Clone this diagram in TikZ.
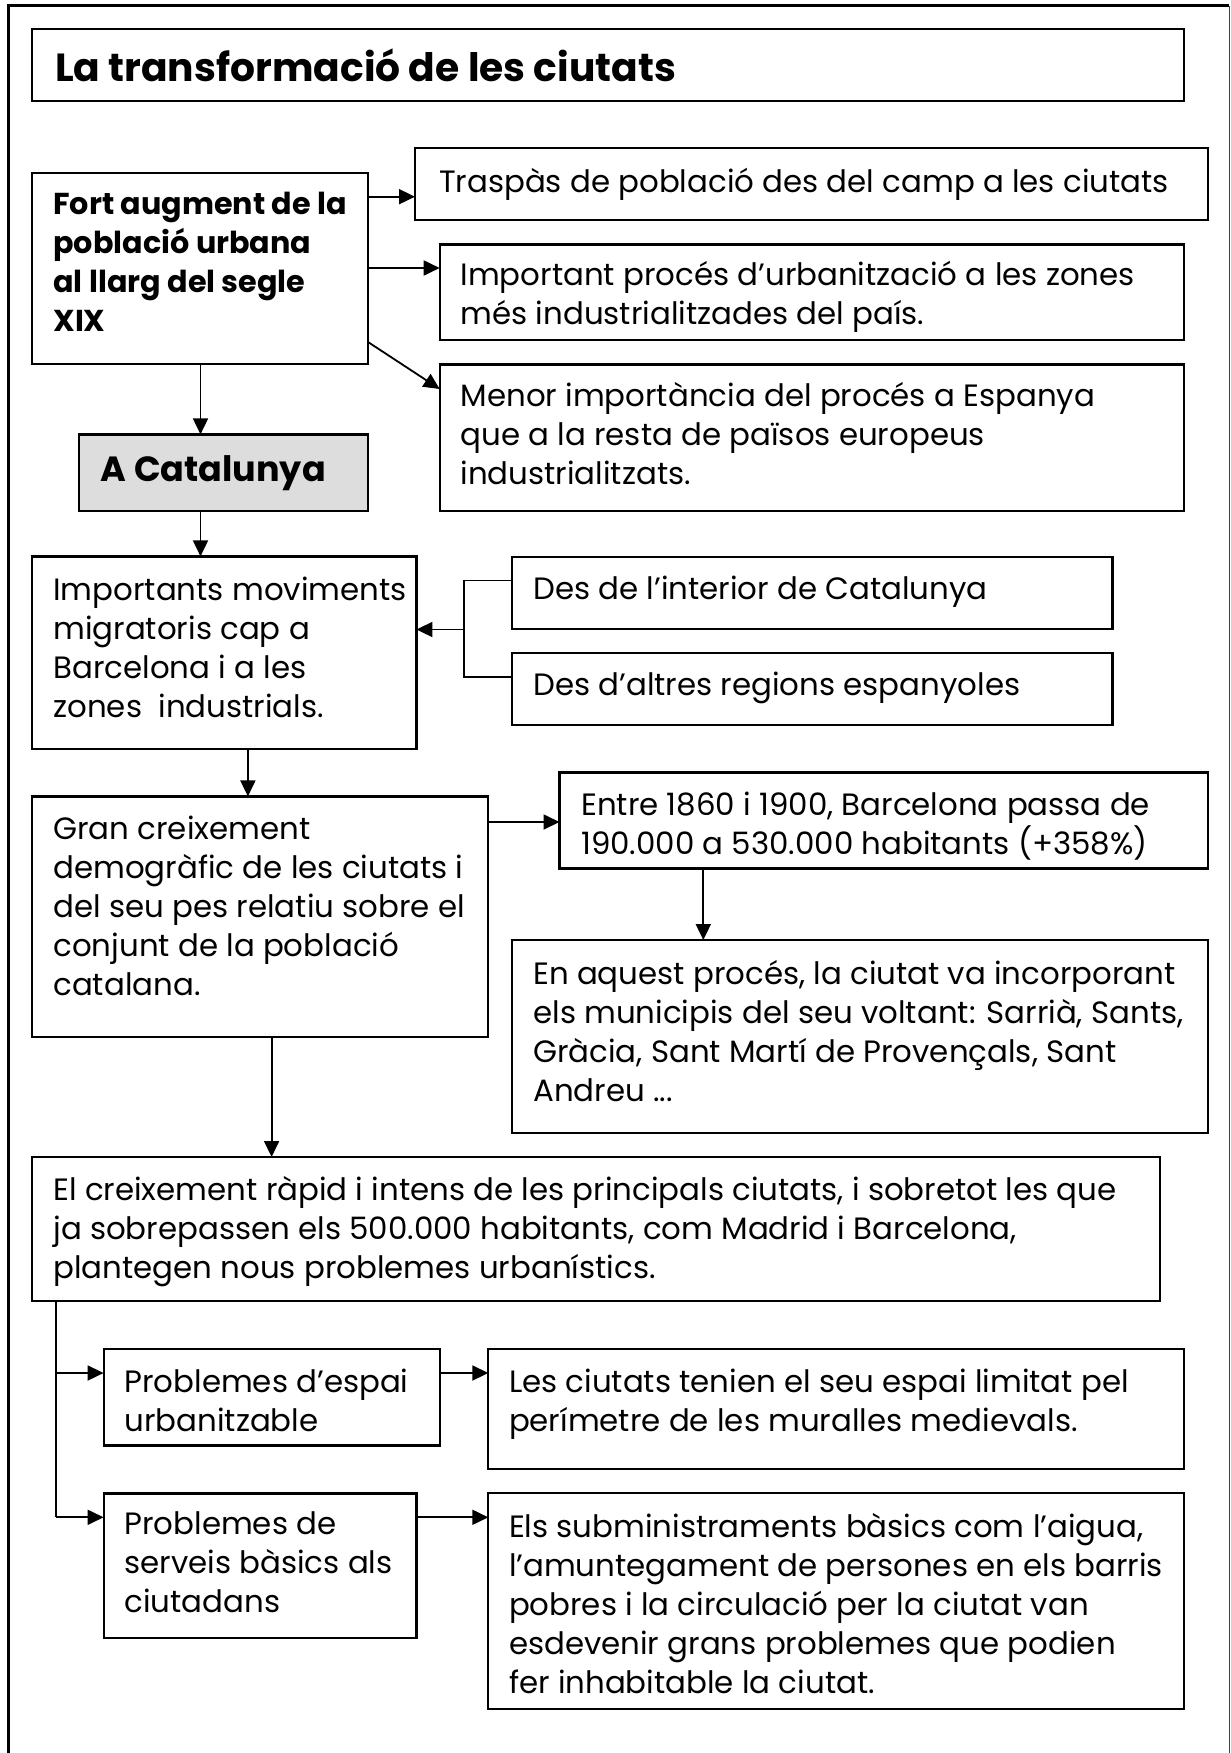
\documentclass[tikz,border=0pt]{standalone}
\usepackage{fontspec}
\setmainfont{Poppins}
\usetikzlibrary{arrows.meta,calc}
\definecolor{catgray}{RGB}{221,221,221}
\newlength\calA
\newlength\calB
\newcommand\addw[1]{\settowidth\calB{\fontsize{10pt}{12pt}\selectfont #1}\addtolength\calA\calB}
\newcommand\bx[6][]{\node[box,#1,anchor=north west,minimum width={#4-#2},minimum height={#5-#3}] (#6) at (#2,#3) {};}
\newcommand\tx[5]{\node[anchor=base west,inner sep=0pt,outer sep=0pt] (#1) at (#2,#3) {\parbox[t]{1150pt}{#4\raggedright #5}};}
\begin{document}%
\setlength\calA{0pt}%
\addw{Traspàs de població des del camp a les ciutats}%
\addw{En aquest procés, la ciutat va incorporant}%
\addw{l’amuntegament de persones en els barris}%
\addw{demogràfic de les ciutats i}%
\pgfmathsetmacro\rs{2436/\calA*10}%
\setlength\calA{0pt}%
\addw{\bfseries Fort augment de la}%
\addw{\bfseries població urbana}%
\addw{\bfseries al llarg del segle}%
\pgfmathsetmacro\bs{803.6/\calA*10}%
\setlength\calA{0pt}%
\addw{\bfseries La transformació de les ciutats}%
\pgfmathsetmacro\ts{621/\calA*10}%
\setlength\calA{0pt}%
\addw{\bfseries A Catalunya}%
\pgfmathsetmacro\cs{225/\calA*10}%
\def\regf{\fontsize{\rs pt}{39pt}\selectfont}%
\def\boldf{\bfseries\fontsize{\bs pt}{39.2pt}\selectfont}%
\begin{tikzpicture}[x=1pt,y=-1pt,
  box/.style={draw=black,line width=2.2pt,inner sep=0pt,outer sep=0pt},
  arr/.style={line width=1.8pt,-{Triangle[length=16pt,width=15pt]}},
  ln/.style={line width=1.8pt}]
\useasboundingbox (0,0) rectangle (1231,1753);
\fill[white] (0,0) rectangle (1231,1753);
% ---- outer frame ----
\draw[line width=3pt] (8,1753) -- (8,6) -- (1229,6);
\draw[line width=1.5pt,black!75] (1229.5,6) -- (1229.5,1753);
% ---- boxes ----
\bx{31.7}{29}{1184}{100.7}{title}
\bx{31.6}{173}{368}{364}{fort}
\bx{415}{148}{1207.6}{220}{tra}
\bx{439.7}{244.5}{1184}{340}{imp}
\bx{439.7}{364.5}{1184}{511}{men}
\bx[fill=catgray]{79}{434.4}{368}{511}{cat}
\bx{31.6}{556.4}{416.4}{749}{mig}
\bx{512}{557}{1112.5}{628.7}{int}
\bx{512}{653}{1112.5}{725}{alt}
\bx{31.6}{796.4}{488.1}{1037}{gran}
\bx{559.5}{772.5}{1207.9}{868.4}{entre}
\bx{512}{940}{1207.9}{1133}{aq}
\bx{31.6}{1157}{1160}{1301}{el}
\bx{103.6}{1349}{439.7}{1445.4}{esp}
\bx{488.3}{1349}{1184}{1469}{les}
\bx{103.6}{1493.4}{416.4}{1637.7}{ser}
\bx{488.3}{1493}{1184}{1709}{els}
% ---- texts ----
\tx{title-t}{55}{81.7}{\bfseries\fontsize{\ts pt}{40pt}\selectfont}{La transformació de les ciutats}
\tx{fort-t}{53.4}{214}{\boldf}{Fort augment de la\\població urbana\\al llarg del segle\\XIX}
\tx{cat-t}{100.8}{481}{\bfseries\fontsize{\cs pt}{40pt}\selectfont}{A Catalunya}
\tx{tra-t}{439}{192}{\regf}{Traspàs de població des del camp a les ciutats}
\tx{imp-t}{460.6}{285}{\regf}{Important procés d’urbanització a les zones\\més industrialitzades del país.}
\tx{men-t}{460.6}{406}{\regf}{Menor importància del procés a Espanya\\que a la resta de països europeus\\industrialitzats.}
\tx{mig-t}{53.4}{600}{\regf}{Importants moviments\\migratoris cap a\\Barcelona i a les\\zones~ industrials.}
\tx{int-t}{533.3}{599.3}{\regf}{Des de l’interior de Catalunya}
\tx{alt-t}{533.3}{695}{\regf}{Des d’altres regions espanyoles}
\tx{gran-t}{53.4}{839}{\regf}{Gran creixement\\demogràfic de les ciutats i\\del seu pes relatiu sobre el\\conjunt de la població\\catalana.}
\tx{entre-t}{581.3}{815.5}{\regf}{Entre 1860 i 1900, Barcelona passa de\\190.000 a 530.000 habitants (+358\%)}
\tx{aq-t}{533.3}{984}{\regf}{En aquest procés, la ciutat va incorporant\\els municipis del seu voltant: Sarrià, Sants,\\Gràcia, Sant Martí de Provençals, Sant\\Andreu ...}
\tx{el-t}{53.4}{1200}{\regf}{El creixement ràpid i intens de les principals ciutats, i sobretot les que\\ja sobrepassen els 500.000 habitants, com Madrid i Barcelona,\\plantegen nous problemes urbanístics.}
\tx{esp-t}{124.5}{1392.3}{\regf}{Problemes d’espai\\urbanitzable}
\tx{les-t}{509}{1392.2}{\regf}{Les ciutats tenien el seu espai limitat pel\\perímetre de les muralles medievals.}
\tx{ser-t}{124.5}{1534.6}{\regf}{Problemes de\\serveis bàsics als\\ciutadans}
\tx{els-t}{509}{1537.2}{\regf}{Els subministraments bàsics com l’aigua,\\l’amuntegament de persones en els barris\\pobres i la circulació per la ciutat van\\esdevenir grans problemes que podien\\fer inhabitable la ciutat.}
% ---- helper coordinates ----
\coordinate (ya) at (0,196.7);
\coordinate (yb) at (0,268);
\coordinate (yc1) at (0,342);
\coordinate (yc2) at (0,389);
\coordinate (xa) at (200.5,0);
\coordinate (xb) at (247.9,0);
\coordinate (xc) at (271.6,0);
\coordinate (xd) at (703.3,0);
\coordinate (xbr) at (463.8,0);
\coordinate (ybr1) at (0,580.5);
\coordinate (ybr2) at (0,676.7);
\coordinate (ybrm) at (0,629.5);
\coordinate (yg) at (0,822);
\coordinate (xbr2) at (56.1,0);
\coordinate (ye) at (0,1373);
\coordinate (ys) at (0,1517.3);
% ---- connectors ----
\draw[arr] (fort.east|-ya) -- (tra.west|-ya);
\draw[arr] (fort.east|-yb) -- (imp.west|-yb);
\draw[arr] (fort.east|-yc1) -- (men.west|-yc2);
\draw[arr] (fort.south-|xa) -- (cat.north-|xa);
\draw[arr] (cat.south-|xa) -- (mig.north-|xa);
\draw[ln] (int.west|-ybr1) -- (xbr|-ybr1) -- (xbr|-ybr2) -- (alt.west|-ybr2);
\draw[arr] (xbr|-ybrm) -- (mig.east|-ybrm);
\draw[arr] (mig.south-|xb) -- (gran.north-|xb);
\draw[arr] (gran.east|-yg) -- (entre.west|-yg);
\draw[arr] (entre.south-|xd) -- (aq.north-|xd);
\draw[arr] (gran.south-|xc) -- (el.north-|xc);
\draw[ln] (el.south-|xbr2) -- (xbr2|-ys);
\draw[arr] (xbr2|-ye) -- (esp.west|-ye);
\draw[arr] (xbr2|-ys) -- (ser.west|-ys);
\draw[arr] (esp.east|-ye) -- (les.west|-ye);
\draw[arr] (ser.east|-ys) -- (els.west|-ys);
\end{tikzpicture}%
\end{document}
